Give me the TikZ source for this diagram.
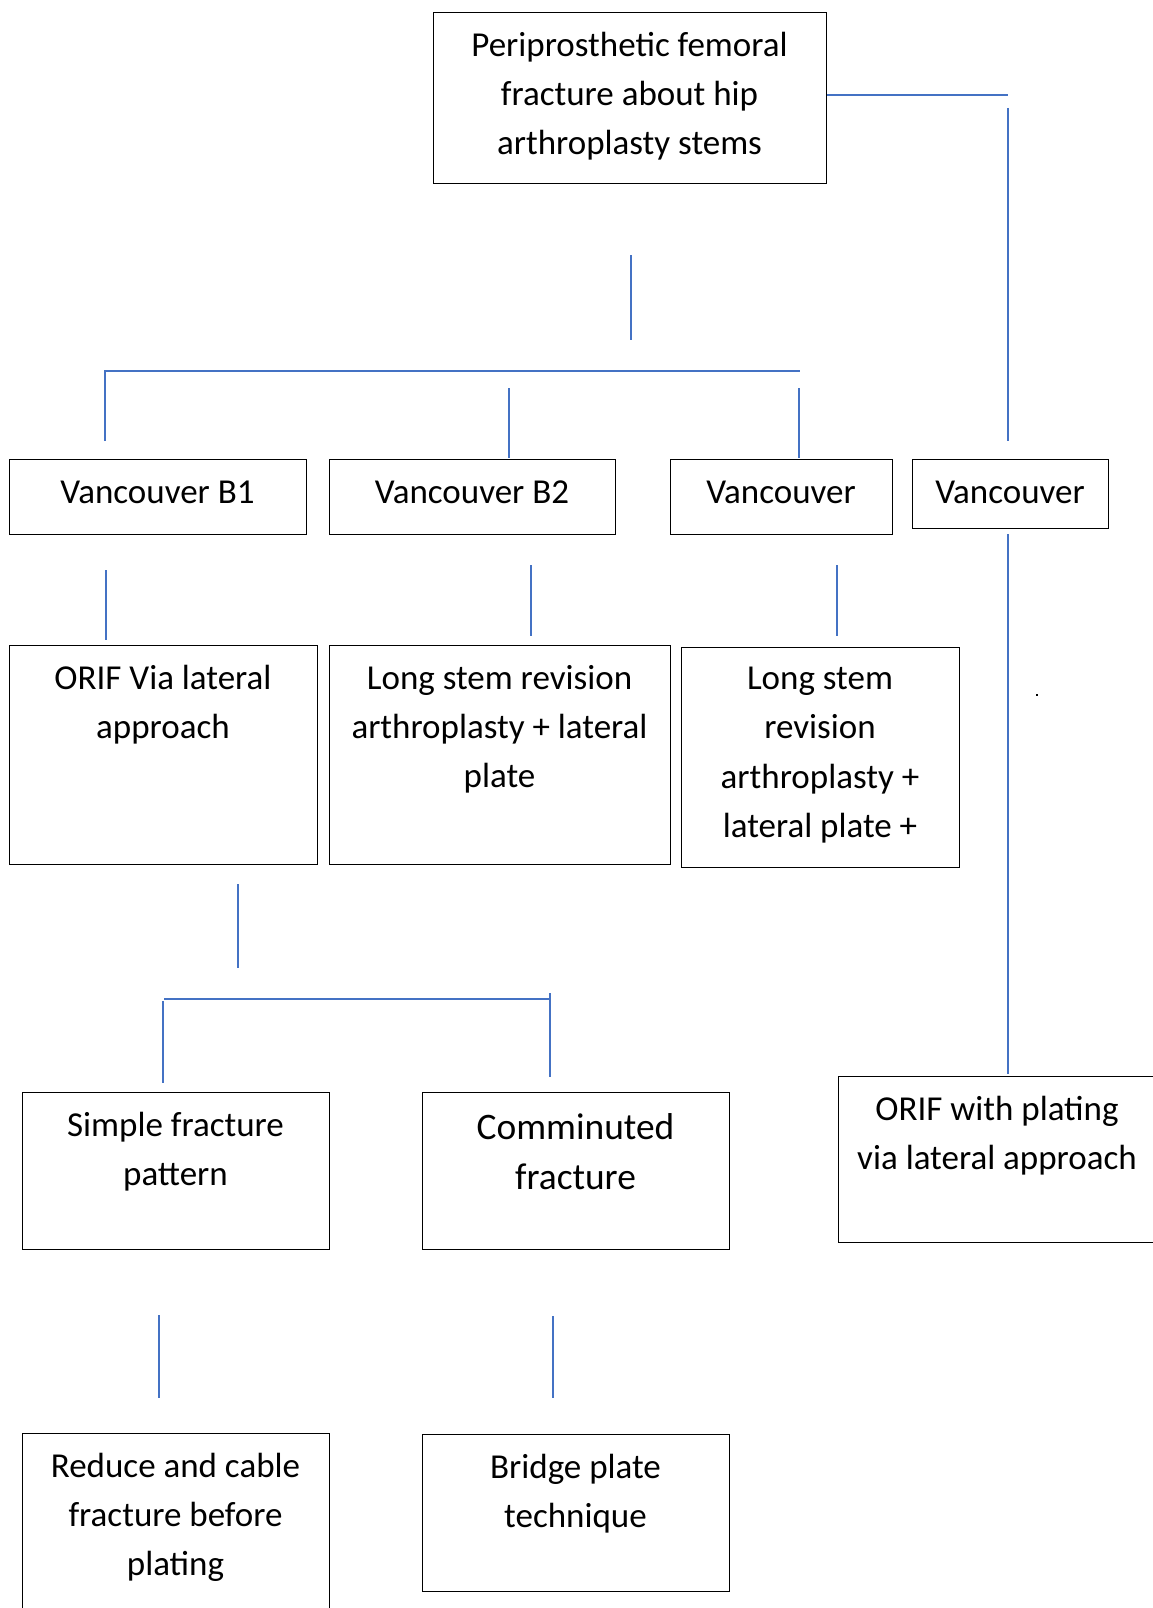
\documentclass[tikz,border=0pt]{standalone}
\usepackage{fontspec}
\setmainfont{Carlito}
\definecolor{linkblue}{HTML}{4472C4}
\begin{document}
\begin{tikzpicture}[x=1pt,y=-1pt,
  frame/.style={draw=black, line width=1.3pt, anchor=north west, inner sep=0pt},
  txt/.style={anchor=north, inner sep=0pt, align=center,
    font=\fontsize{35}{49.2}\selectfont,
    execute at begin node={\rule{0pt}{30pt}}},
  bigtxt/.style={txt, font=\fontsize{37.4}{50.5}\selectfont},
  link/.style={draw=linkblue, line width=2pt}]
\useasboundingbox (0,0) rectangle (1152,1608);

% boxes
\node[frame, minimum width=393pt, minimum height=171pt] (top) at (433,12) {};
\node[frame, minimum width=297pt, minimum height=75pt] (b1) at (9,459) {};
\node[frame, minimum width=286pt, minimum height=75pt] (b2) at (329,459) {};
\node[frame, minimum width=222pt, minimum height=75pt] (v3) at (670,459) {};
\node[frame, minimum width=196pt, minimum height=69pt] (v4) at (912,459) {};
\node[frame, minimum width=308pt, minimum height=219pt] (orif) at (9,645) {};
\node[frame, minimum width=341pt, minimum height=219pt] (ls2) at (329,645) {};
\node[frame, minimum width=278pt, minimum height=220pt] (ls3) at (681,647) {};
\node[frame, minimum width=318pt, minimum height=166pt] (orifp) at (838,1076) {};
\node[frame, minimum width=307pt, minimum height=157pt] (simple) at (22,1092) {};
\node[frame, minimum width=307pt, minimum height=157pt] (comm) at (422,1092) {};
\node[frame, minimum width=307pt, minimum height=190pt] (reduce) at (22,1433) {};
\node[frame, minimum width=307pt, minimum height=157pt] (bridge) at (422,1434) {};

% texts
\node[txt] (topt) at (629.5,32) {Periprosthetic femoral\\fracture about hip\\arthroplasty stems};
\node[txt] (b1t) at (157.5,473) {Vancouver B1};
\node[txt] (b2t) at (472,473) {Vancouver B2};
\node[txt] (v3t) at (781,473) {Vancouver};
\node[txt] (v4t) at (1010,473) {Vancouver};
\node[txt] (orift) at (163,665) {ORIF Via lateral\\approach};
\node[txt] (ls2t) at (499.5,665) {Long stem revision\\arthroplasty + lateral\\plate};
\node[txt] (ls3t) at (820,667) {Long stem\\revision\\arthroplasty +\\lateral plate +};
\node[txt] (orifpt) at (997,1096) {ORIF with plating\\via lateral approach};
\node[txt] (simplet) at (175.5,1112) {Simple fracture\\pattern};
\node[bigtxt] (commt) at (575.5,1113) {Comminuted\\fracture};
\node[txt] (reducet) at (175.5,1453) {Reduce and cable\\fracture before\\plating};
\node[txt] (bridget) at (575.5,1454) {Bridge plate\\technique};

% stray mark
\fill[black] (1036,694) rectangle (1038,696);

% connector end points
\coordinate (r1) at (1008,95);
\coordinate (r2) at (1008,108);
\coordinate (r3) at (1008,441);
\coordinate (d1) at (631,255);
\coordinate (d2) at (631,340);
\coordinate (hl) at (105,371);
\coordinate (hr) at (800,371);
\coordinate (hlb) at (105,441);
\coordinate (m1) at (509,388);
\coordinate (m2) at (509,458);
\coordinate (n1) at (799,388);
\coordinate (n2) at (799,458);
\coordinate (p1) at (106,570);
\coordinate (p2) at (106,640);
\coordinate (q1) at (531,565);
\coordinate (q2) at (531,636);
\coordinate (s1) at (837,565);
\coordinate (s2) at (837,636);
\coordinate (t1) at (1008,534);
\coordinate (t2) at (1008,1074);
\coordinate (u1) at (238,884);
\coordinate (u2) at (238,968);
\coordinate (gl) at (164,999);
\coordinate (gr) at (551,999);
\coordinate (gl1) at (163,1001);
\coordinate (gl2) at (163,1083);
\coordinate (gr1) at (550,993);
\coordinate (gr2) at (550,1077);
\coordinate (k1) at (159,1315);
\coordinate (k2) at (159,1398);
\coordinate (w1) at (553,1316);
\coordinate (w2) at (553,1398);

% connectors
\draw[link] (top.east |- r1) -- (r1);
\draw[link] (r2) -- (r3);
\draw[link] (d1) -- (d2);
\draw[link] (hlb) -- (hl) -- (hr);
\draw[link] (m1) -- (m2);
\draw[link] (n1) -- (n2);
\draw[link] (p1) -- (p2);
\draw[link] (q1) -- (q2);
\draw[link] (s1) -- (s2);
\draw[link] (t1) -- (t2);
\draw[link] (u1) -- (u2);
\draw[link] (gl) -- (gr);
\draw[link] (gl1) -- (gl2);
\draw[link] (gr1) -- (gr2);
\draw[link] (k1) -- (k2);
\draw[link] (w1) -- (w2);
\end{tikzpicture}
\end{document}
